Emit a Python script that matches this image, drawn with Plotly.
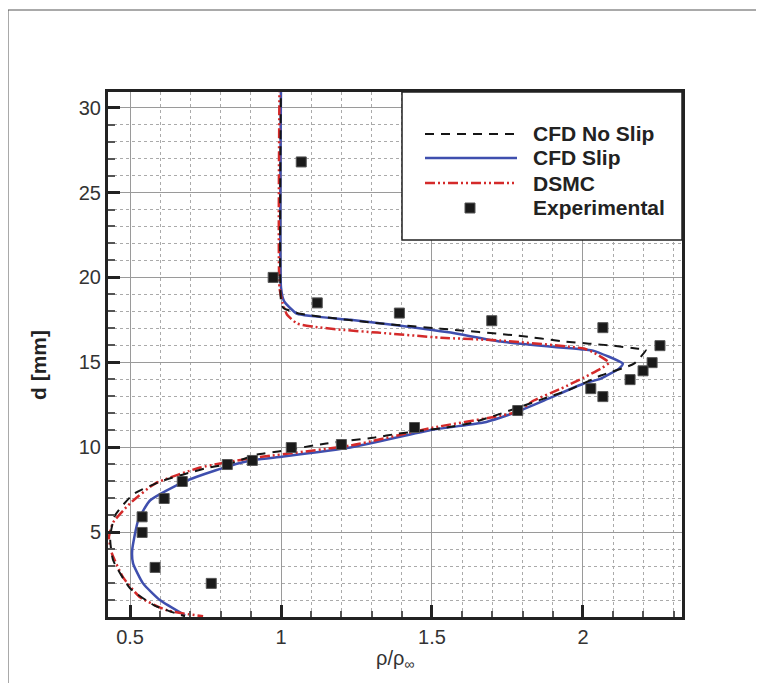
import plotly.graph_objects as go

# ---------------- data ----------------
exp_x = [1.067, 0.974, 1.12, 1.392, 1.698, 2.066, 2.255, 2.229, 2.199, 2.156, 2.026, 2.066,
         1.784, 1.442, 1.20, 1.034, 0.905, 0.822, 0.673, 0.613, 0.54, 0.54, 0.583, 0.769]
exp_y = [26.8, 20.0, 18.5, 17.9, 17.45, 17.04, 15.98, 14.98, 14.5, 13.98, 13.45, 12.98,
         12.16, 11.16, 10.16, 9.98, 9.22, 8.98, 7.98, 6.98, 5.9, 4.98, 2.92, 1.98]

slip_x = [1.0, 1.0, 1.01, 1.03, 1.054, 1.23, 1.396, 1.562, 1.728, 2.003, 2.033, 2.132, 2.119,
          2.059, 2.003, 1.893, 1.784, 1.728, 1.671, 1.505, 1.23, 1.008, 0.898, 0.782, 0.673,
          0.566, 0.527, 0.507, 0.51, 0.543, 0.6, 0.682]
slip_y = [31.5, 19.4, 18.6, 18.2, 17.85, 17.5, 17.16, 16.75, 16.22, 15.75, 15.69, 14.92, 14.63,
          14.04, 13.75, 12.92, 12.1, 11.75, 11.45, 11.04, 9.98, 9.45, 9.22, 8.63, 7.92,
          6.86, 5.69, 3.92, 3.16, 1.98, 0.98, 0.1]

dsmc_x = [0.995, 0.995, 1.005, 1.02, 1.054, 1.107, 1.197, 1.32, 1.53, 1.728, 2.003, 2.036, 2.086,
          2.059, 2.003, 1.927, 1.837, 1.784, 1.728, 1.505, 1.23, 0.898, 0.732, 0.583, 0.5,
          0.444, 0.43, 0.44, 0.477, 0.533, 0.623, 0.742]
dsmc_y = [31.5, 19.4, 18.5, 17.8, 17.28, 17.1, 16.92, 16.75, 16.45, 16.28, 15.81, 15.57, 14.98,
          14.63, 14.1, 13.45, 12.75, 12.1, 11.86, 11.16, 10.1, 9.34, 8.8, 7.86, 6.69,
          5.57, 4.69, 3.74, 2.33, 1.16, 0.39, 0.04]

noslip_x = [1.0, 1.0, 1.008, 1.064, 1.22, 1.303, 1.529, 1.784, 1.943, 2.02, 2.1, 2.182, 2.209,
            2.169, 2.059, 1.947, 1.87, 1.728, 1.635, 1.548, 1.389, 1.31, 1.15, 0.991, 0.921,
            0.832, 0.749, 0.6, 0.51, 0.45, 0.434, 0.444, 0.5, 0.58, 0.682]
noslip_y = [31.5, 18.6, 18.2, 17.86, 17.5, 17.33, 16.98, 16.57, 16.22, 16.1, 15.98, 15.8, 15.75,
            14.92, 14.22, 13.33, 12.86, 11.98, 11.45, 11.16, 10.8, 10.57, 10.22, 9.75, 9.57,
            9.04, 8.75, 7.98, 7.22, 5.98, 4.69, 3.34, 1.69, 0.69, 0.04]

x_ticks = [0.5, 1, 1.5, 2]
x_tick_labels = ["0.5", "1", "1.5", "2"]
y_ticks = [5, 10, 15, 20, 25, 30]
y_tick_labels = ["5", "10", "15", "20", "25", "30"]

legend_names = ["CFD No Slip", "CFD Slip", "DSMC", "Experimental"]

# ---------------- styles ----------------
BLUE = "#3f4fae"
RED = "#d42a2a"
BLACK = "#151515"
FONT = "Liberation Sans, Arial, sans-serif"
RED_DASH = "10px,3px,2px,3px,2px,3px"
BLACK_DASH = "9px,7px"

fig = go.Figure()
fig.add_trace(go.Scatter(x=slip_x, y=slip_y, mode="lines", name=legend_names[1],
                         line=dict(color=BLUE, width=2.5, shape="spline", smoothing=0.5)))
fig.add_trace(go.Scatter(x=dsmc_x, y=dsmc_y, mode="lines", name=legend_names[2],
                         line=dict(color=RED, width=2.5, dash=RED_DASH, shape="spline", smoothing=0.5)))
fig.add_trace(go.Scatter(x=noslip_x, y=noslip_y, mode="lines", name=legend_names[0],
                         line=dict(color=BLACK, width=2, dash=BLACK_DASH, shape="spline", smoothing=0.5)))
fig.add_trace(go.Scatter(x=exp_x, y=exp_y, mode="markers", name=legend_names[3],
                         marker=dict(symbol="square", size=10, color="#1a1a1a",
                                     line=dict(color="#555", width=1))))

axis_common = dict(
    showline=True, linewidth=3, linecolor="#222", mirror=True,
    ticks="inside", ticklen=12, tickwidth=3, tickcolor="#222",
    showgrid=True, gridcolor="#9a9a9a", gridwidth=1,
    zeroline=False,
    tickfont=dict(family=FONT, size=20, color="#333"),
)

fig.update_xaxes(
    range=[0.427, 2.328], tickmode="array", tickvals=x_ticks, ticktext=x_tick_labels,
    minor=dict(tick0=0, dtick=0.1, ticks="inside", ticklen=6, tickwidth=1.5, tickcolor="#555",
               showgrid=True, gridcolor="#aaaaaa", griddash="dot", gridwidth=1),
    **axis_common,
)
fig.update_yaxes(
    range=[0, 30.92], tickmode="array", tickvals=y_ticks, ticktext=y_tick_labels,
    minor=dict(tick0=0, dtick=1, ticks="inside", ticklen=7, tickwidth=1.5, tickcolor="#555",
               showgrid=True, gridcolor="#aaaaaa", griddash="dot", gridwidth=1),
    **axis_common,
)

# ---------------- layout helpers (page pixel coords -> paper fractions) ----------------
OFF = 8  # page body margin
L, R, T, B = 108, 682, 92, 617
W, H = R - L, B - T
FIG_W, FIG_H = 764 - OFF, 683 - OFF


def px(xp):
    return (xp - L) / W


def py(yp):
    return (B - yp) / H


shapes = [
    # outer frame of the figure
    dict(type="rect", xref="paper", yref="paper", x0=px(8), y0=py(720), x1=px(800), y1=py(10),
         line=dict(color="#555", width=1), fillcolor="rgba(0,0,0,0)", layer="below"),
    # legend box
    dict(type="rect", xref="paper", yref="paper", x0=px(402), y0=py(240), x1=1, y1=1,
         line=dict(color="#222", width=1.5), fillcolor="white", layer="above"),
    dict(type="line", xref="paper", yref="paper", x0=px(425), x1=px(517), y0=py(134), y1=py(134),
         line=dict(color=BLACK, width=2, dash=BLACK_DASH), layer="above"),
    dict(type="line", xref="paper", yref="paper", x0=px(425), x1=px(517), y0=py(158), y1=py(158),
         line=dict(color=BLUE, width=2.5), layer="above"),
    dict(type="line", xref="paper", yref="paper", x0=px(425), x1=px(517), y0=py(183), y1=py(183),
         line=dict(color=RED, width=2.5, dash=RED_DASH), layer="above"),
    dict(type="rect", xref="paper", yref="paper", x0=px(465), x1=px(475), y0=py(213), y1=py(203),
         line=dict(color="#555", width=1), fillcolor="#1a1a1a", layer="above"),
]

annotations = []
for name, yp in zip(legend_names, [134, 158, 183, 208]):
    annotations.append(dict(xref="paper", yref="paper", x=px(531), y=py(yp), text=name,
                            showarrow=False, xanchor="left", yanchor="middle",
                            font=dict(family=FONT, size=21, color="#222", weight="bold")))

# axis titles
annotations.append(dict(xref="paper", yref="paper", x=px(395), y=py(659),
                        text="ρ/ρ<sub>∞</sub>", showarrow=False, xanchor="center", yanchor="middle",
                        font=dict(family=FONT, size=20, color="#333")))
annotations.append(dict(xref="paper", yref="paper", x=px(38), y=py(365),
                        text="d [mm]", showarrow=False, xanchor="center", yanchor="middle",
                        textangle=-90,
                        font=dict(family=FONT, size=21, color="#222", weight="bold")))

fig.update_layout(
    width=FIG_W, height=FIG_H,
    margin=dict(l=L - OFF, r=FIG_W - (R - OFF), t=T - OFF, b=FIG_H - (B - OFF), autoexpand=False),
    paper_bgcolor="white", plot_bgcolor="white",
    showlegend=False,
    shapes=shapes, annotations=annotations,
    font=dict(family=FONT),
)

fig.write_html("out.html")
